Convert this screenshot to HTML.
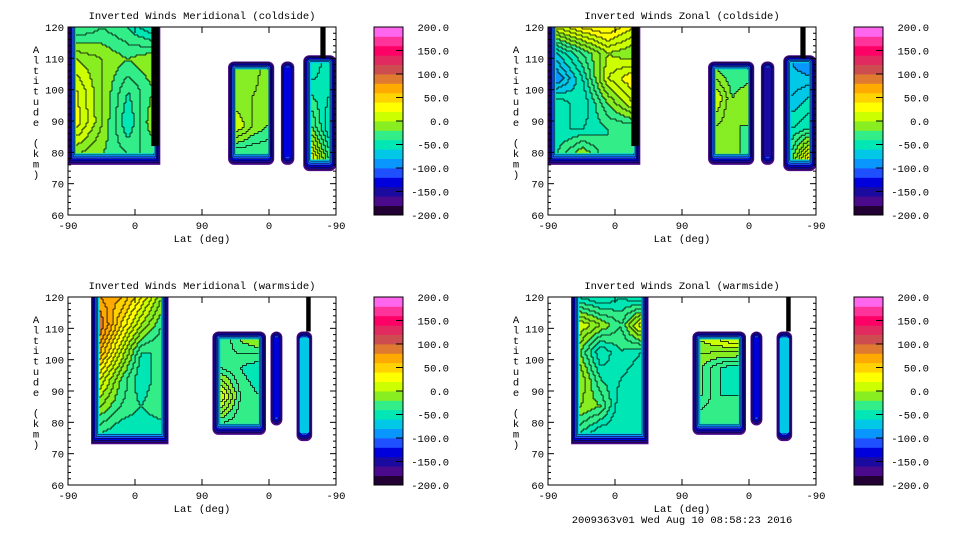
<!DOCTYPE html>
<html><head><meta charset="utf-8"><style>
body{margin:0;background:#fff;width:960px;height:540px;overflow:hidden}
svg{position:absolute;left:0;top:0}
text{font-family:"Liberation Mono",monospace;font-size:10.5px;fill:#000}
</style></head><body>
<svg id="chart" width="960" height="540"></svg>
<script>
const bandColors=["#220033","#4b0a8c","#1a0aa0","#0000dd","#1e50ff","#0a96ff","#00c8e6","#00e6b4","#33ee88","#88ee22","#ccff00","#ffff00","#ffd200","#ffaa00","#e07a30","#cc4c50","#e02a60","#ff0066","#ff3399","#ff66ee"];
const cbTicks=[200,150,100,50,0,-50,-100,-150,-200];
const altTicks=[60,70,80,90,100,110,120];
const latTickLabels=["-90","0","90","0","-90"];
const panelTitles=["Inverted Winds Meridional (coldside)","Inverted Winds Zonal (coldside)","Inverted Winds Meridional (warmside)","Inverted Winds Zonal (warmside)"];
const blocksTL=[[0,124,76,120],[215,277,76,109],[286,304,76,109],[316,360,74,111]];
const valuesTL=[
 [[-40,-30,-40,-60],[0,-10,-20,-10],[20,-10,-40,-20],[25,-10,-50,-10],[-10,-20,-30,-30]],
 [[-10,0,-20],[-10,-10,-20],[10,-10,-20],[-40,-40,-40]],
 [[-140],[-140]],
 [[-60,-40],[-40,-50],[-20,-60],[30,-30]]];
const blocksTR=[[0,124,76,120],[215,277,76,109],[286,304,76,109],[316,360,74,111]];
const valuesTR=[
 [[10,30,40,20],[-60,-30,0,-10],[-90,-50,10,30],[-40,-60,-20,10],[-50,-50,-40,-40],[-40,-10,-40,-40]],
 [[-20,-30,-30],[10,-20,-10],[-10,-20,-20],[-20,-10,-30]],
 [[-150],[-150]],
 [[-80,-90],[-70,-60],[-50,-40],[-20,40]]];
const blocksBL=[[31,135,73,120],[194,266,76,109],[272,288,79,109],[307,328,74,109]];
const valuesBL=[
 [[70,60,30,-10],[90,40,0,-30],[60,10,-40,-40],[20,-20,-50,-30],[-10,-30,-40,-30],[-40,-50,-50,-50]],
 [[-40,-20,-10],[-30,-40,-50],[20,-30,-40],[-30,-40,-40]],
 [[-140],[-140]],
 [[-80,-60],[-50,-30],[-60,-30]]];
const blocksBR=[[31,135,73,120],[194,266,76,109],[272,288,79,109],[307,328,74,109]];
const valuesBR=[
 [[-50,-60,-50,-60],[10,-10,-30,20],[-20,-60,-40,-50],[0,-40,-50,-60],[-10,-20,-60,-50],[-40,-60,-60,-60]],
 [[0,10,20],[-20,-40,-50],[-20,-40,-40],[-40,-40,-40]],
 [[-130],[-130]],
 [[-80,40],[-60,30],[-40,20]]];
const stripsTL=[[112,122,82,120],[339,346,110,120]];
const stripsTR=[[112,122,82,120],[339,346,110,120]];
const stripsBL=[[320,326,109,120]];
const stripsBR=[[320,326,109,120]];

const NS="http://www.w3.org/2000/svg";
const svg=document.getElementById('chart');
function el(tag,attrs,parent){const e=document.createElementNS(NS,tag);for(const k in attrs)e.setAttribute(k,attrs[k]);(parent||svg).appendChild(e);return e;}
function bandOf(v){let i=Math.floor((v+200)/20);return Math.max(0,Math.min(19,i));}
const PW=268,PH=188;
function drawPanel(px,py,title,blocks,values,strips,idx){
  const g=el('g',{});
  
  
  const xS=u=>px+u*PW/360, yS=a=>py+(120-a)*PH/60;
  blocks.forEach((b,bi)=>{
    const bg=el('g',{},g);
    
    
    const x0=xS(b[0]),x1=xS(b[1]),y0=yS(b[3]),y1=yS(b[2]);
    const ring=["#4b0a8c","#1a0aa0","#0000dd","#1e50ff","#0a96ff","#00c8e6"];
    const top120=b[3]>=120;
    ring.forEach((c,i)=>{const ins=i*1.3, bot=i*2;
      el('rect',{x:x0+ins,y:top120?y0:y0+ins,width:Math.max(1,x1-x0-2*ins),height:Math.max(1,y1-(top120?y0:y0+ins)-bot),rx:top120?0:Math.max(1,6-i),fill:c,stroke:i>0?'#000':'none','stroke-width':0.5},bg);});
    const vals=values[bi];
    const ix0=x0+8,ix1=x1-8,iy0=top120?y0:y0+8,iy1=y1-12;
    if(ix1<=ix0+1){
      el('rect',{x:x0+3,y:y0+6,width:x1-x0-6,height:y1-y0-14,rx:2,fill:bandColors[bandOf(vals[0][0])]},bg);
      return;
    }
    const R=vals.length,C=vals[0].length,st=2;
    const nx=Math.ceil((ix1-ix0)/st),ny=Math.ceil((iy1-iy0)/st);
    const grid=[];
    for(let j=0;j<ny;j++){grid.push([]);for(let i=0;i<nx;i++){
      const yy=iy0+j*st,xx=ix0+i*st;
      const fy=R>1?Math.min(R-1,(yy-iy0)/(iy1-iy0)*(R-1)):0,fx=C>1?Math.min(C-1,(xx-ix0)/(ix1-ix0)*(C-1)):0;
      const r0=Math.floor(fy),c0=Math.floor(fx),r1=Math.min(R-1,r0+1),c1=Math.min(C-1,c0+1);
      const ty=fy-r0,tx=fx-c0;
      const v=(vals[r0][c0]*(1-tx)+vals[r0][c1]*tx)*(1-ty)+(vals[r1][c0]*(1-tx)+vals[r1][c1]*tx)*ty;
      grid[j].push(Math.floor(v/10));
      el('rect',{x:xx,y:yy,width:st+0.3,height:st+0.3,fill:bandColors[bandOf(v)]},bg);
    }}
    let d='';
    for(let j=0;j<ny;j++)for(let i=0;i<nx;i++){
      const xx=ix0+i*st,yy=iy0+j*st;
      if(i+1<nx&&grid[j][i]!==grid[j][i+1])d+=`M${xx+st},${yy}v${st}`;
      if(j+1<ny&&grid[j][i]!==grid[j+1][i])d+=`M${xx},${yy+st}h${st}`;
    }
    if(d)el('path',{d:d,stroke:'#000','stroke-width':0.8,fill:'none'},bg);
  });
  strips.forEach(s=>{const r=el('rect',{x:xS(s[0]),y:yS(s[3]),width:xS(s[1])-xS(s[0]),height:yS(s[2])-yS(s[3]),fill:'#000'},g);});
  const fr=el('rect',{x:px,y:py,width:PW,height:PH,fill:'none',stroke:'#000','stroke-width':1},g);
  
  for(let a=60;a<=120;a+=2){const y=yS(a),L=(a%10===0)?6:3;
    el('line',{x1:px,x2:px+L,y1:y,y2:y,stroke:'#000'},g);el('line',{x1:px+PW,x2:px+PW-L,y1:y,y2:y,stroke:'#000'},g);}
  altTicks.forEach(a=>{const t=el('text',{x:px-4,y:yS(a)+4,'text-anchor':'end'},g);t.textContent=a;});
  latTickLabels.forEach((l,i)=>{const x=px+i*PW/4;
    el('line',{x1:x,x2:x,y1:py+PH,y2:py+PH-6,stroke:'#000'},g);el('line',{x1:x,x2:x,y1:py,y2:py+6,stroke:'#000'},g);
    const t=el('text',{x:x,y:py+PH+14,'text-anchor':'middle'},g);t.textContent=l;});
  const xt=el('text',{x:px+PW/2,y:py+PH+27,'text-anchor':'middle'},g);xt.textContent='Lat (deg)';
  
  const tt=el('text',{x:px+PW/2,y:py-8,'text-anchor':'middle'},g);tt.textContent=title;
  
  const yt=el('text',{x:px-32,y:py+25,'text-anchor':'middle'},g);
  
  "Altitude (km)".split('').forEach((ch,i)=>{const ts=el('tspan',{x:px-32,y:py+26+i*10.4},yt);ts.textContent=ch===' '?'\u00a0':ch;});
  const cx=px+306,cg=el('g',{},g);
  
  const bh=PH/bandColors.length;
  bandColors.forEach((c,i)=>el('rect',{x:cx,y:py+PH-(i+1)*bh,width:29,height:bh+0.4,fill:c},cg));
  el('rect',{x:cx,y:py,width:29,height:PH,fill:'none',stroke:'#000'},cg);
  cbTicks.forEach(v=>{const y=py+(200-v)/400*PH;
    el('line',{x1:cx+29,x2:cx+22,y1:y,y2:y,stroke:'#000'},cg);
    const t=el('text',{x:cx+75,y:y+4,'text-anchor':'end'},cg);t.textContent=v.toFixed(1);
    });
}
drawPanel(68,27,panelTitles[0],blocksTL,valuesTL,stripsTL,'meridional-coldside');
drawPanel(548,27,panelTitles[1],blocksTR,valuesTR,stripsTR,'zonal-coldside');
drawPanel(68,297,panelTitles[2],blocksBL,valuesBL,stripsBL,'meridional-warmside');
drawPanel(548,297,panelTitles[3],blocksBR,valuesBR,stripsBR,'zonal-warmside');
const ft=el('text',{x:682,y:523,'text-anchor':'middle'});ft.textContent='2009363v01 Wed Aug 10 08:58:23 2016';


</script>
</body></html>
